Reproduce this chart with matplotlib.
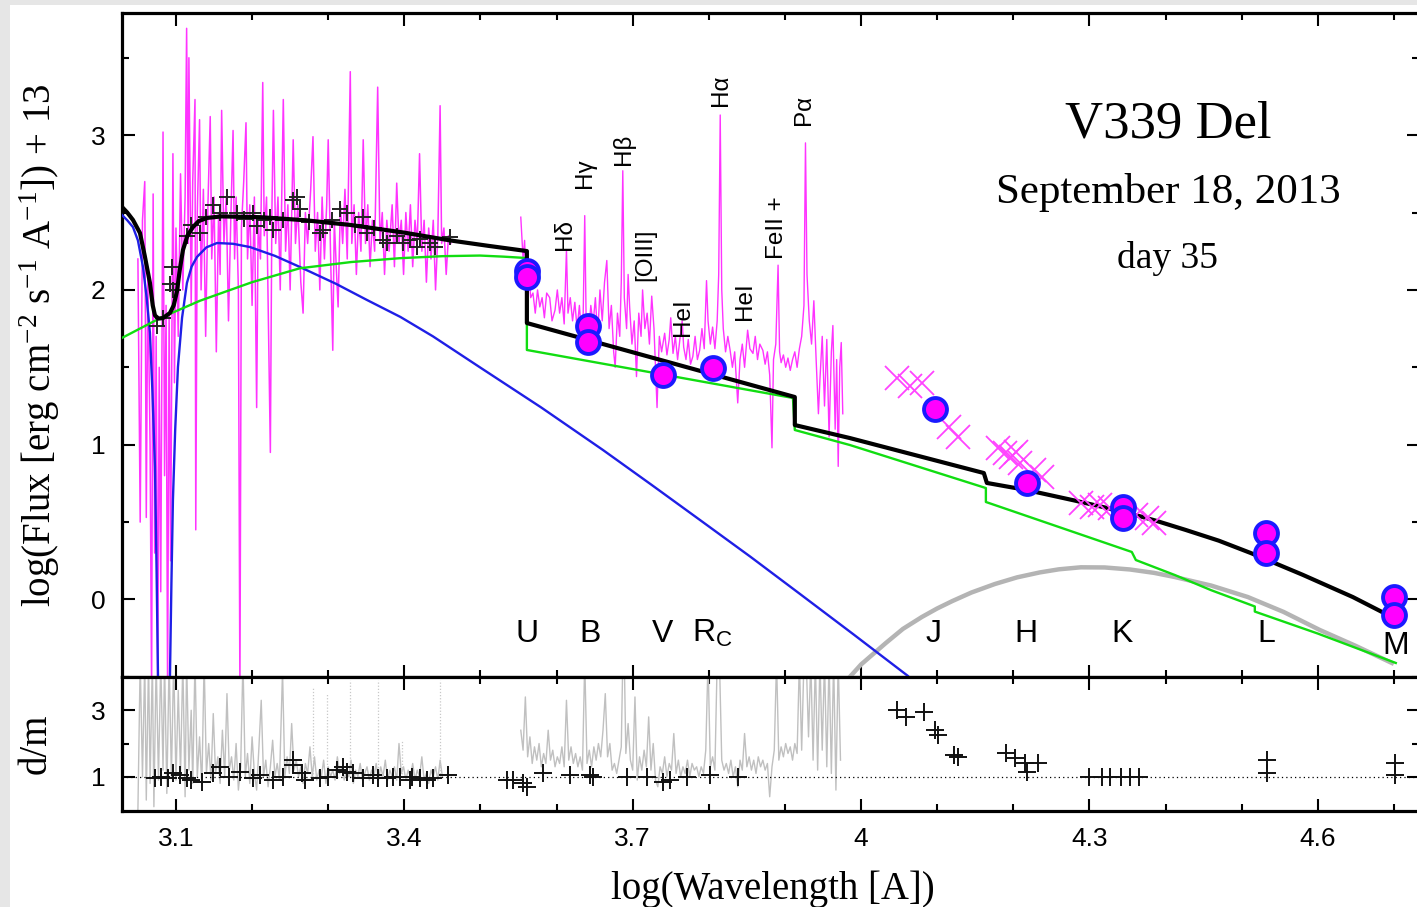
import matplotlib
matplotlib.use("Agg")
import matplotlib.pyplot as plt
from matplotlib.ticker import FixedLocator, FixedFormatter, NullFormatter
from matplotlib.patches import Rectangle

plt.rcParams["font.family"] = ["Liberation Sans", "DejaVu Sans"]
plt.rcParams["mathtext.default"] = "regular"

SERIF = ["Liberation Serif", "DejaVu Serif"]

# ---------------- data (log lambda, log flux + 13) ----------------
# UV spectrum (magenta)
uv_spec = [
    (3.050, 2.20), (3.053, 0.50), (3.056, 2.45), (3.059, 2.70), (3.061, 0.53),
    (3.063, 2.10), (3.066, 1.00), (3.068, -0.6), (3.070, 2.62), (3.072, 0.30),
    (3.074, 1.70), (3.076, -0.6), (3.078, 1.50), (3.080, 0.05), (3.083, 3.02),
    (3.085, 0.80), (3.087, 1.90), (3.089, -0.6), (3.091, 1.85), (3.093, 0.25),
    (3.096, 2.88), (3.098, 1.40), (3.100, 2.40), (3.103, 1.70), (3.106, 2.75),
    (3.109, 2.00), (3.112, 2.60), (3.114, 3.69), (3.116, 2.30), (3.117, 3.50),
    (3.120, 1.90), (3.122, 2.70), (3.125, 3.23), (3.126, 0.45), (3.128, 2.50),
    (3.131, 3.10), (3.133, 2.00), (3.136, 2.65), (3.139, 1.70), (3.142, 2.55),
    (3.145, 3.12), (3.147, 2.20), (3.150, 2.60), (3.153, 1.60), (3.156, 2.50),
    (3.158, 2.10), (3.160, 3.16), (3.163, 2.30), (3.166, 2.60), (3.169, 1.80),
    (3.172, 2.45), (3.175, 3.03), (3.177, 2.20), (3.179, 2.60), (3.182, 2.00),
    (3.184, -0.6), (3.186, 2.40), (3.189, 2.70), (3.192, 3.08), (3.194, 2.20),
    (3.197, 2.55), (3.200, 1.90), (3.203, 2.60), (3.206, 1.24), (3.208, 2.45),
    (3.211, 2.20), (3.214, 3.34), (3.216, 2.35), (3.219, 2.60), (3.221, 1.95),
    (3.224, 0.95), (3.226, 2.50), (3.228, 3.16), (3.231, 2.30), (3.234, 2.60),
    (3.237, 2.00), (3.241, 3.23), (3.244, 2.25), (3.247, 2.55), (3.250, 2.00),
    (3.254, 2.97), (3.257, 2.30), (3.260, 2.55), (3.264, 2.05), (3.267, 1.85),
    (3.270, 2.50), (3.273, 2.30), (3.277, 2.65), (3.280, 2.99), (3.283, 2.25),
    (3.286, 2.50), (3.289, 2.00), (3.292, 2.60), (3.295, 2.20), (3.298, 2.55),
    (3.300, 2.97), (3.303, 2.25), (3.306, 1.61), (3.308, 2.45), (3.311, 2.10),
    (3.313, 1.89), (3.316, 2.55), (3.319, 2.30), (3.322, 2.65), (3.325, 2.20),
    (3.329, 3.41), (3.331, 2.30), (3.334, 2.55), (3.337, 2.10), (3.340, 2.50),
    (3.343, 2.25), (3.346, 2.97), (3.349, 2.30), (3.352, 2.55), (3.355, 2.15),
    (3.358, 2.45), (3.361, 2.25), (3.365, 3.31), (3.368, 2.30), (3.371, 2.50),
    (3.374, 2.10), (3.377, 2.45), (3.380, 2.25), (3.384, 2.55), (3.387, 2.15),
    (3.390, 2.69), (3.393, 2.30), (3.396, 2.45), (3.399, 2.10), (3.402, 2.50),
    (3.405, 2.25), (3.408, 2.55), (3.411, 2.15), (3.414, 2.45), (3.417, 2.30),
    (3.420, 2.88), (3.423, 2.25), (3.426, 2.45), (3.429, 2.05), (3.432, 2.40),
    (3.435, 2.20), (3.438, 2.45), (3.441, 2.00), (3.444, 2.35), (3.447, 3.19),
    (3.449, 2.30), (3.452, 2.40), (3.455, 2.10), (3.458, 2.35), (3.461, 2.30),
]

# optical spectrum (magenta)
opt_spec = [
    (3.553, 2.47), (3.556, 2.20), (3.558, 2.32), (3.560, 2.05), (3.563, 2.15),
    (3.566, 1.95), (3.569, 1.98), (3.572, 1.85), (3.575, 2.00), (3.578, 1.89),
    (3.581, 1.95), (3.584, 1.82), (3.587, 1.98), (3.591, 1.95), (3.594, 1.80),
    (3.598, 1.87), (3.601, 2.00), (3.604, 1.85), (3.607, 1.95), (3.610, 1.78),
    (3.613, 2.26), (3.615, 1.85), (3.618, 1.95), (3.621, 1.80), (3.624, 1.92),
    (3.627, 1.75), (3.630, 1.90), (3.633, 1.70), (3.635, 1.85), (3.637, 2.48),
    (3.639, 1.75), (3.642, 1.72), (3.645, 1.90), (3.648, 1.78), (3.651, 1.95),
    (3.654, 1.70), (3.657, 2.00), (3.660, 1.80), (3.663, 2.05), (3.666, 2.19),
    (3.669, 1.75), (3.672, 1.90), (3.675, 1.60), (3.677, 1.50), (3.680, 1.85),
    (3.683, 1.70), (3.685, 2.05), (3.687, 2.77), (3.689, 1.95), (3.692, 1.75),
    (3.694, 2.10), (3.696, 1.89), (3.699, 1.65), (3.702, 1.80), (3.705, 1.44),
    (3.708, 1.85), (3.711, 1.70), (3.713, 2.00), (3.716, 1.75), (3.719, 1.85),
    (3.722, 1.65), (3.725, 1.96), (3.728, 1.75), (3.732, 1.24), (3.735, 1.70),
    (3.738, 1.60), (3.742, 1.72), (3.745, 1.58), (3.748, 1.68), (3.750, 1.82),
    (3.753, 1.59), (3.756, 1.70), (3.759, 1.55), (3.762, 1.68), (3.765, 1.80),
    (3.767, 1.63), (3.770, 1.55), (3.773, 1.68), (3.776, 1.52), (3.779, 1.57),
    (3.782, 1.70), (3.785, 1.55), (3.788, 1.61), (3.791, 1.75), (3.794, 1.62),
    (3.797, 2.06), (3.799, 1.80), (3.802, 1.65), (3.805, 1.76), (3.808, 1.62),
    (3.811, 1.80), (3.813, 2.10), (3.815, 3.13), (3.817, 2.00), (3.819, 1.75),
    (3.822, 1.60), (3.825, 1.70), (3.828, 1.61), (3.831, 1.50), (3.834, 1.60),
    (3.838, 1.27), (3.841, 1.55), (3.844, 1.65), (3.847, 1.50), (3.851, 1.74),
    (3.854, 1.62), (3.858, 1.59), (3.861, 1.70), (3.864, 1.55), (3.867, 1.65),
    (3.871, 1.61), (3.874, 1.52), (3.877, 1.60), (3.880, 1.45), (3.883, 0.98),
    (3.885, 1.55), (3.888, 1.65), (3.891, 2.16), (3.893, 1.60), (3.895, 1.53),
    (3.898, 1.58), (3.901, 1.50), (3.904, 1.56), (3.907, 1.48), (3.910, 1.55),
    (3.913, 1.60), (3.916, 1.50), (3.919, 1.62), (3.922, 1.70), (3.925, 1.90),
    (3.927, 2.95), (3.929, 2.10), (3.932, 1.80), (3.935, 1.65), (3.938, 1.93),
    (3.941, 1.55), (3.944, 1.20), (3.946, 1.42), (3.949, 1.70), (3.952, 1.25),
    (3.955, 1.68), (3.958, 1.05), (3.961, 1.60), (3.963, 1.77), (3.966, 1.10),
    (3.968, 1.55), (3.970, 0.86), (3.972, 1.50), (3.974, 1.66), (3.976, 1.20),
]

# model components
total_model = [
    (3.0291, 2.536), (3.036, 2.500), (3.0435, 2.452), (3.0527, 2.368),
    (3.059, 2.220), (3.0658, 2.045), (3.0695, 1.900), (3.0724, 1.835),
    (3.077, 1.815), (3.0829, 1.818), (3.0921, 1.851), (3.097, 1.900),
    (3.1013, 1.990), (3.105, 2.130), (3.1092, 2.258), (3.115, 2.350),
    (3.1223, 2.406), (3.130, 2.445), (3.1407, 2.465), (3.160, 2.475),
    (3.2103, 2.470), (3.270, 2.450), (3.3286, 2.420), (3.400, 2.370),
    (3.4599, 2.320), (3.510, 2.285), (3.561, 2.251), (3.561, 1.786),
    (3.913, 1.308), (3.913, 1.127), (3.9853, 1.043), (4.1613, 0.817),
    (4.1653, 0.753), (4.2178, 0.707), (4.280, 0.640), (4.3465, 0.565),
    (4.3867, 0.510), (4.4267, 0.449), (4.470, 0.380), (4.5121, 0.300),
    (4.580, 0.160), (4.646, 0.016), (4.6973, -0.113),
]
hot_component = [
    (3.0291, 2.484), (3.036, 2.450), (3.0435, 2.406), (3.050, 2.320),
    (3.0567, 2.148), (3.0615, 1.950), (3.0658, 1.722), (3.069, 1.350),
    (3.0724, 0.856), (3.0745, 0.200), (3.0764, -0.50), (3.0800, -3.00),
    (3.0921, -0.50), (3.094, 0.100), (3.096, 0.643), (3.099, 1.100),
    (3.1026, 1.502), (3.108, 1.820), (3.1144, 2.045), (3.1205, 2.150),
    (3.1276, 2.213), (3.140, 2.275), (3.1539, 2.303), (3.175, 2.298),
    (3.1972, 2.277), (3.230, 2.220), (3.2629, 2.148), (3.310, 2.040),
    (3.3509, 1.935), (3.395, 1.825), (3.4376, 1.700), (3.4993, 1.500),
    (3.580, 1.240), (3.6609, 0.966), (3.725, 0.740), (3.7883, 0.514),
    (3.855, 0.275), (3.9197, 0.036), (3.990, -0.225), (4.0616, -0.494),
    (4.0770, -0.580),
]
nebular_component = [
    (3.0291, 1.690), (3.080, 1.820), (3.1315, 1.930), (3.200, 2.050),
    (3.2629, 2.140), (3.330, 2.180), (3.3942, 2.205), (3.450, 2.218),
    (3.4993, 2.222), (3.530, 2.215), (3.561, 2.206), (3.561, 1.612),
    (3.9105, 1.302), (3.913, 1.095), (3.9853, 0.998), (4.164, 0.720),
    (4.164, 0.630), (4.3557, 0.307), (4.361, 0.255), (4.4123, 0.158),
    (4.460, 0.060), (4.5173, -0.045), (4.5173, -0.078), (4.600, -0.220),
    (4.7025, -0.410),
]
dust_component = [
    (3.9853, -0.50), (4.000, -0.420), (4.0326, -0.281), (4.055, -0.190),
    (4.0799, -0.113), (4.100, -0.058), (4.120, -0.010), (4.145, 0.045),
    (4.1758, 0.100), (4.205, 0.143), (4.2349, 0.175), (4.260, 0.195),
    (4.2887, 0.208), (4.320, 0.207), (4.3531, 0.194), (4.385, 0.172),
    (4.4123, 0.145), (4.460, 0.090), (4.5081, 0.016), (4.555, -0.080),
    (4.6027, -0.197), (4.650, -0.300), (4.6973, -0.410),
]

# binned spectrum points (black +)
spec_bins = [
    (3.075, 1.77), (3.083, 1.82), (3.092, 2.04), (3.096, 2.00), (3.095, 2.15),
    (3.115, 2.35), (3.120, 2.42), (3.1315, 2.37), (3.140, 2.47), (3.1486, 2.55),
    (3.158, 2.50), (3.167, 2.60), (3.1801, 2.50), (3.190, 2.46), (3.2011, 2.50),
    (3.2064, 2.41), (3.215, 2.45), (3.2235, 2.47), (3.2274, 2.39), (3.240, 2.45),
    (3.2537, 2.58), (3.2589, 2.60), (3.2629, 2.52), (3.275, 2.44), (3.2891, 2.37),
    (3.2931, 2.39), (3.305, 2.45), (3.3154, 2.52), (3.3246, 2.50), (3.335, 2.42),
    (3.3456, 2.47), (3.3509, 2.37), (3.360, 2.40), (3.3719, 2.32), (3.3772, 2.30),
    (3.390, 2.35), (3.398, 2.30), (3.4074, 2.32), (3.4166, 2.28), (3.420, 2.33),
    (3.4336, 2.30), (3.440, 2.28), (3.4599, 2.34),
]

# NIR spectrophotometry (magenta x)
nir_points = [
    (4.0471, 1.431), (4.0641, 1.379), (4.0799, 1.399), (4.1154, 1.116),
    (4.1272, 1.052), (4.1798, 0.979), (4.1889, 0.946), (4.1968, 0.921),
    (4.2034, 0.953), (4.2087, 0.882), (4.2271, 0.837), (4.2375, 0.791),
    (4.2887, 0.623), (4.3032, 0.598), (4.3137, 0.610), (4.3268, 0.591),
    (4.3610, 0.546), (4.3754, 0.526), (4.3846, 0.494),
]

# broad-band photometry (circles)
phot_x = [3.561, 3.561, 3.6411, 3.6411, 3.7397, 3.8054, 4.097, 4.2178,
          4.3439, 4.3439, 4.5318, 4.5318, 4.700, 4.700]
phot_y = [2.122, 2.083, 1.767, 1.664, 1.450, 1.495, 1.230, 0.752,
          0.598, 0.527, 0.430, 0.300, 0.016, -0.100]

bands = ["U", "B", "V", "R$_{C}$", "J", "H", "K", "L", "M"]
band_x = [3.561, 3.644, 3.7397, 3.805, 4.0957, 4.2165, 4.3426, 4.533, 4.7025]
band_y = [-0.22, -0.22, -0.22, -0.22, -0.22, -0.22, -0.22, -0.22, -0.30]

lines = ["H\u03b4", "H\u03b3", "H\u03b2", "[OIII]", "HeI", "H\u03b1", "HeI", "FeII +", "P\u03b1"]
line_x = [3.611, 3.6372, 3.6885, 3.716, 3.766, 3.8159, 3.8474, 3.889, 3.925]
line_y = [2.355, 2.755, 2.91, 2.225, 1.825, 3.29, 1.93, 2.405, 3.16]

# lower panel: data / model
ratio_uv = [
    (3.050, 0.0), (3.053, 4.5), (3.056, 1.0), (3.059, 4.5), (3.061, 0.3),
    (3.064, 4.5), (3.066, 0.8), (3.069, 4.5), (3.071, 0.1), (3.074, 4.5),
    (3.077, 0.9), (3.080, 4.5), (3.083, 1.2), (3.085, 4.5), (3.088, 0.5),
    (3.091, 4.5), (3.094, 1.0), (3.097, 4.5), (3.100, 0.9), (3.103, 3.6),
    (3.106, 1.1), (3.109, 4.5), (3.112, 0.4), (3.114, 4.5), (3.117, 1.2),
    (3.120, 3.0), (3.122, 0.8), (3.125, 4.5), (3.128, 1.0), (3.131, 2.2),
    (3.134, 0.7), (3.137, 4.5), (3.140, 1.1), (3.143, 2.0), (3.146, 0.9),
    (3.149, 2.9), (3.152, 1.1), (3.155, 1.6), (3.158, 0.8), (3.161, 2.4),
    (3.164, 1.0), (3.167, 3.5), (3.170, 1.2), (3.173, 1.6), (3.176, 0.9),
    (3.179, 2.0), (3.182, 0.6), (3.185, 1.3), (3.188, 4.5), (3.191, 1.0),
    (3.194, 1.7), (3.197, 0.8), (3.200, 2.2), (3.203, 1.1), (3.206, 0.6),
    (3.209, 1.9), (3.212, 3.3), (3.215, 1.0), (3.218, 1.5), (3.221, 0.7),
    (3.224, 1.3), (3.227, 2.1), (3.230, 1.0), (3.233, 1.4), (3.236, 0.9),
    (3.240, 4.2), (3.243, 1.0), (3.246, 1.6), (3.249, 1.1), (3.252, 2.6),
    (3.255, 1.2), (3.258, 1.5), (3.261, 1.0), (3.264, 1.3), (3.267, 0.8),
    (3.270, 1.4), (3.273, 1.1), (3.276, 1.9), (3.279, 1.0), (3.282, 1.6),
    (3.285, 0.9), (3.288, 1.2), (3.291, 1.0), (3.294, 1.5), (3.297, 0.8),
    (3.300, 1.3), (3.303, 1.0), (3.306, 1.2), (3.309, 0.9), (3.312, 1.6),
    (3.315, 1.1), (3.318, 1.3), (3.321, 0.9), (3.324, 1.2), (3.327, 1.0),
    (3.330, 1.5), (3.333, 0.8), (3.336, 1.2), (3.339, 1.0), (3.342, 1.4),
    (3.345, 0.9), (3.348, 1.1), (3.351, 1.3), (3.354, 0.9), (3.357, 1.2),
    (3.360, 1.0), (3.363, 1.4), (3.366, 0.9), (3.369, 1.3), (3.372, 1.0),
    (3.375, 1.5), (3.378, 0.9), (3.381, 1.2), (3.384, 1.0), (3.387, 1.3),
    (3.390, 0.9), (3.393, 2.0), (3.396, 1.1), (3.399, 1.3), (3.402, 0.9),
    (3.405, 1.2), (3.408, 1.0), (3.411, 1.4), (3.414, 0.9), (3.417, 1.2),
    (3.420, 1.0), (3.423, 1.6), (3.426, 0.9), (3.429, 1.1), (3.432, 0.8),
    (3.435, 1.2), (3.438, 1.0), (3.441, 1.3), (3.444, 0.9), (3.447, 1.5),
    (3.450, 1.0),
]
ratio_opt = [
    (3.553, 2.4), (3.556, 1.8), (3.559, 3.4), (3.562, 1.6), (3.565, 2.2),
    (3.568, 1.4), (3.571, 1.9), (3.574, 1.5), (3.577, 2.0), (3.580, 1.3),
    (3.583, 1.7), (3.586, 1.4), (3.589, 2.4), (3.592, 1.5), (3.595, 1.8),
    (3.598, 1.3), (3.601, 1.6), (3.604, 1.4), (3.607, 1.9), (3.610, 1.3),
    (3.613, 3.3), (3.616, 1.5), (3.619, 1.9), (3.622, 1.4), (3.625, 1.7),
    (3.628, 1.3), (3.631, 1.6), (3.634, 1.2), (3.637, 4.5), (3.640, 1.4),
    (3.643, 1.8), (3.646, 1.3), (3.649, 1.9), (3.652, 1.5), (3.655, 2.0),
    (3.658, 1.6), (3.661, 2.4), (3.664, 3.5), (3.667, 1.6), (3.670, 2.0),
    (3.673, 1.2), (3.676, 1.4), (3.679, 1.1), (3.682, 1.5), (3.685, 1.9),
    (3.687, 4.5), (3.689, 4.5), (3.691, 1.7), (3.694, 2.6), (3.697, 1.5),
    (3.700, 1.2), (3.703, 3.4), (3.706, 0.9), (3.709, 1.6), (3.712, 1.2),
    (3.715, 1.8), (3.718, 1.3), (3.721, 2.8), (3.724, 1.2), (3.727, 2.0),
    (3.730, 0.9), (3.733, 0.7), (3.736, 1.3), (3.739, 1.1), (3.742, 1.6),
    (3.745, 1.0), (3.748, 1.4), (3.751, 1.2), (3.754, 2.3), (3.757, 1.1),
    (3.760, 1.5), (3.763, 1.0), (3.766, 1.3), (3.769, 1.1), (3.772, 1.5),
    (3.775, 1.0), (3.778, 1.4), (3.781, 1.2), (3.784, 1.3), (3.787, 1.0),
    (3.790, 1.3), (3.793, 1.1), (3.796, 1.8), (3.799, 4.5), (3.802, 1.3),
    (3.805, 1.6), (3.808, 1.2), (3.811, 4.5), (3.814, 4.5), (3.817, 1.5),
    (3.820, 1.2), (3.823, 1.4), (3.826, 1.1), (3.829, 1.5), (3.832, 1.0),
    (3.835, 1.3), (3.838, 0.7), (3.841, 1.5), (3.844, 1.2), (3.847, 2.3),
    (3.850, 1.3), (3.853, 1.6), (3.856, 1.2), (3.859, 1.5), (3.862, 1.1),
    (3.865, 1.6), (3.868, 1.3), (3.871, 1.5), (3.874, 1.2), (3.877, 1.4),
    (3.880, 0.4), (3.883, 1.3), (3.886, 1.8), (3.889, 4.5), (3.892, 1.5),
    (3.895, 1.9), (3.898, 1.6), (3.901, 2.0), (3.904, 1.7), (3.907, 1.9),
    (3.910, 1.5), (3.913, 2.0), (3.916, 1.7), (3.919, 4.5), (3.922, 1.8),
    (3.925, 4.5), (3.928, 4.5), (3.931, 2.2), (3.934, 4.5), (3.937, 1.5),
    (3.940, 4.5), (3.943, 1.2), (3.946, 4.5), (3.949, 1.8), (3.952, 4.5),
    (3.955, 1.3), (3.958, 4.5), (3.961, 1.1), (3.964, 4.5), (3.967, 0.6),
    (3.970, 4.5), (3.973, 1.5),
]
# dotted gray spikes of the ratio spectrum
ratio_dot_x = [3.280, 3.298, 3.3286, 3.365, 3.397, 3.447]
ratio_dot_top = [3.7, 3.5, 3.9, 3.9, 2.1, 3.9]

ratio_points = [
    (3.0724, 0.96), (3.080, 1.00), (3.090, 0.95), (3.0961, 1.11), (3.105, 1.05),
    (3.115, 0.95), (3.120, 0.90), (3.1342, 0.84), (3.1486, 1.11), (3.1578, 1.29),
    (3.170, 1.00), (3.1841, 1.14), (3.2011, 0.96), (3.210, 1.05), (3.2274, 0.90),
    (3.240, 1.00), (3.2537, 1.50), (3.2537, 1.35), (3.265, 1.10), (3.270, 0.90),
    (3.2891, 0.96), (3.300, 1.00), (3.3115, 1.20), (3.3194, 1.29), (3.325, 1.15),
    (3.3325, 1.11), (3.3456, 0.96), (3.3588, 1.05), (3.365, 0.95), (3.3772, 0.96),
    (3.385, 1.00), (3.3942, 0.99), (3.4074, 0.90), (3.410, 1.00), (3.4205, 0.96),
    (3.430, 0.90), (3.4376, 0.96), (3.4573, 1.05),
    (3.5348, 0.90), (3.5427, 0.90), (3.5558, 0.81), (3.561, 0.69), (3.582, 1.11),
    (3.6175, 1.05), (3.6438, 1.05), (3.6478, 0.99), (3.6924, 0.99), (3.7187, 0.99),
    (3.7397, 0.84), (3.7489, 0.90), (3.7712, 0.99), (3.8015, 1.05), (3.8383, 0.99),
    (4.0471, 3.00), (4.0589, 2.79), (4.0825, 2.94), (4.097, 2.40), (4.1009, 2.25),
    (4.1219, 1.65), (4.1272, 1.59), (4.1903, 1.71), (4.2021, 1.56), (4.2152, 1.41),
    (4.2323, 1.41), (4.2178, 1.14), (4.2993, 0.99), (4.3163, 0.99), (4.3268, 0.99),
    (4.3413, 0.99), (4.3531, 0.99), (4.3649, 0.99), (4.5331, 1.50), (4.5331, 1.11),
    (4.7012, 1.41), (4.7012, 1.05),
]

x_major = [3.1, 3.4, 3.7, 4.0, 4.3, 4.6]
x_labels = ["3.1", "3.4", "3.7", "4", "4.3", "4.6"]
x_minor = [3.1, 3.2, 3.3, 3.4, 3.5, 3.6, 3.7, 3.8, 3.9, 4.0, 4.1, 4.2, 4.3, 4.4, 4.5, 4.6, 4.7]
y_major = [0, 1, 2, 3]
y_minor = [-0.5, 0.5, 1.5, 2.5, 3.5]
r_major = [1, 3]
r_minor = [2]


def xy(pairs):
    return [p[0] for p in pairs], [p[1] for p in pairs]


# ---------------- figure ----------------
W, H = 1417, 907
fig = plt.figure(figsize=(W / 100, H / 100), dpi=100)
fig.patch.set_facecolor("#e6e6e6")
fig.add_artist(Rectangle((10 / W, 0), 1, 1 - 5 / H, transform=fig.transFigure,
                         facecolor="white", edgecolor="none", zorder=-10))

left, width = 122 / W, 1297 / W
ax = fig.add_axes([left, 1 - 677 / H, width, 664 / H])
axr = fig.add_axes([left, 1 - 810.7 / H, width, 133.7 / H])

XLIM = (3.0291, 4.733)

# upper panel
ax.plot(*xy(uv_spec), color="#ff00ff", lw=1.1, alpha=0.8, zorder=2)
ax.plot(*xy(opt_spec), color="#ff00ff", lw=1.0, alpha=0.8, zorder=2)
ax.plot(*xy(dust_component), color="#b4b4b4", lw=3.2, zorder=3)
ax.plot(*xy(hot_component), color="#1f1fe6", lw=1.7, zorder=4)
ax.plot(*xy(nebular_component), color="#11dd11", lw=1.7, zorder=4)
ax.plot(*xy(spec_bins), ls="none", marker="+", ms=12, mew=1.4, color="#222222", zorder=5)
ax.plot(*xy(total_model), color="black", lw=3.0, zorder=6)
ax.plot(*xy(nir_points), ls="none", marker="x", ms=17, mew=1.3, color="#ff44ff", zorder=7)
ax.plot(phot_x, phot_y, ls="none", marker="o", ms=16.5, mfc="#ff00ff",
        mec="#1a1aff", mew=2.8, zorder=8)

for s, x, y in zip(bands, band_x, band_y):
    ax.text(x, y, s, fontsize=23, ha="center", va="center", zorder=9)
for s, x, y in zip(lines, line_x, line_y):
    ax.text(x, y, s, fontsize=17.5, rotation=90, ha="center", va="center", zorder=9)

ax.text(0.807, 0.812, "V339 Del", transform=ax.transAxes, family=SERIF,
        fontsize=38, ha="center", va="baseline")
ax.text(0.807, 0.714, "September 18, 2013", transform=ax.transAxes, family=SERIF,
        fontsize=31, ha="center", va="baseline")
ax.text(0.806, 0.616, "day 35", transform=ax.transAxes, family=SERIF,
        fontsize=27, ha="center", va="baseline")

ax.set_xlim(*XLIM)
ax.set_ylim(-0.5007, 3.789)
ax.yaxis.set_major_locator(FixedLocator(y_major))
ax.yaxis.set_minor_locator(FixedLocator(y_minor))
ax.xaxis.set_major_locator(FixedLocator(x_major))
ax.xaxis.set_minor_locator(FixedLocator(x_minor))
ax.xaxis.set_major_formatter(NullFormatter())

# lower panel
axr.plot(*xy(ratio_uv), color="#c0c0c0", lw=1.0, zorder=2)
axr.plot(*xy(ratio_opt), color="#c0c0c0", lw=1.0, zorder=2)
for x, top in zip(ratio_dot_x, ratio_dot_top):
    axr.plot([x, x], [1.0, top], color="#c8c8c8", lw=0.9, ls=(0, (1, 1.5)), zorder=2)
axr.axhline(1.0, color="black", lw=0.9, ls=(0, (1, 2.5)), zorder=3)
axr.plot(*xy(ratio_points), ls="none", marker="+", ms=13, mew=1.4, color="#111111", zorder=5)

axr.set_xlim(*XLIM)
axr.set_ylim(-0.02, 4.0)
axr.yaxis.set_major_locator(FixedLocator(r_major))
axr.yaxis.set_minor_locator(FixedLocator(r_minor))
axr.xaxis.set_major_locator(FixedLocator(x_major))
axr.xaxis.set_minor_locator(FixedLocator(x_minor))
axr.xaxis.set_major_formatter(FixedFormatter(x_labels))

for a in (ax, axr):
    for sp in a.spines.values():
        sp.set_linewidth(2.3)
    a.tick_params(which="both", direction="in", top=True, right=True, width=1.5,
                  labelsize=19)
    a.tick_params(which="major", length=9, pad=12)
    a.tick_params(which="minor", length=5)

fig.text(773 / W, 1 - 899 / H, "log(Wavelength [A])", family=SERIF, fontsize=28,
         ha="center", va="baseline")
fig.text(40 / W, 1 - 345 / H, "log(Flux [erg cm$^{-2}$ s$^{-1}$ A$^{-1}$]) + 13",
         family=SERIF, fontsize=28, rotation=90, ha="center", va="center")
fig.text(36 / W, 1 - 744 / H, "d/m", family=SERIF, fontsize=28, rotation=90,
         ha="center", va="center")

fig.savefig("out.png", dpi=100, facecolor=fig.get_facecolor())
